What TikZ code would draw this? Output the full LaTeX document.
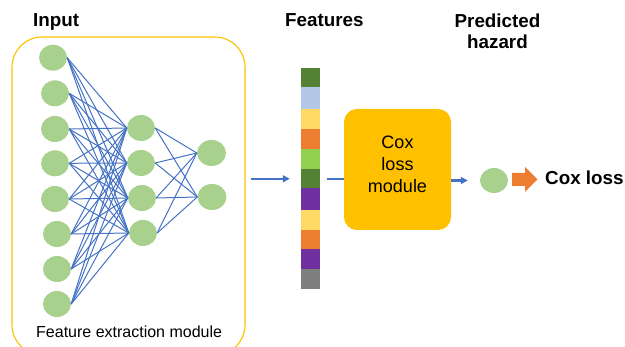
\documentclass[tikz,border=0pt]{standalone}
\usepackage{fontspec}
\setmainfont{Liberation Sans}
\usetikzlibrary{shapes.geometric,arrows.meta}
\definecolor{neurongreen}{HTML}{A9D18E}
\definecolor{linkblue}{HTML}{4472C4}
\definecolor{amber}{HTML}{FFC000}
\definecolor{fOrange}{HTML}{ED7D31}
\definecolor{fDarkGreen}{HTML}{548235}
\definecolor{fLightBlue}{HTML}{B4C7E7}
\definecolor{fYellow}{HTML}{FFD966}
\definecolor{fLightGreen}{HTML}{92D050}
\definecolor{fPurple}{HTML}{7030A0}
\definecolor{fGray}{HTML}{7F7F7F}
\begin{document}
\begin{tikzpicture}[x=1pt,y=-1pt,
  neuron/.style={ellipse, fill=neurongreen, minimum width=28pt, minimum height=26pt, inner sep=0pt},
  link/.style={draw=linkblue, line width=1pt},
  flow/.style={draw=linkblue, line width=2.2pt, -{Triangle[length=7pt,width=7pt]}},
  flowline/.style={draw=linkblue, line width=2.2pt},
  heading/.style={font=\fontsize{18.8}{21}\selectfont\bfseries, inner sep=0pt},
  plain/.style={font=\fontsize{18}{22}\selectfont, inner sep=0pt, align=center}
]
\useasboundingbox (0,0) rectangle (625,347);

% frame of the feature extraction module
\node[draw=amber, line width=1.1pt, rounded corners=30pt, minimum width=233pt, minimum height=318pt, inner sep=0pt] (fem) at (128.5,196) {};

% input layer
\foreach \i/\x/\y in {1/53/57.7, 2/55/93.3, 3/55/129, 4/55/163.3, 5/55/199, 6/57/234, 7/57/269, 8/57/304}
  \node[neuron] (in\i) at (\x,\y) {};
% hidden layer
\foreach \j/\x/\y in {1/141/128, 2/141/163, 3/142/198, 4/143/233}
  \node[neuron] (h\j) at (\x,\y) {};
% last layer
\foreach \k/\x/\y in {1/211.5/153, 2/212/197}
  \node[neuron, minimum width=29pt] (o\k) at (\x,\y) {};

\foreach \i in {1,...,8}
  \foreach \j in {1,...,4}
    \draw[link] (in\i.east) -- (h\j.west);
\foreach \j in {1,...,4}
  \foreach \k in {1,2}
    \draw[link] (h\j.east) -- (o\k.west);

\node[font=\fontsize{16}{19}\selectfont, inner sep=0pt, anchor=base west] (femlabel) at (36,338) {Feature extraction module};

% feature vector
\node[minimum width=19pt, minimum height=221pt, inner sep=0pt] (bar) at (310.5,178.8) {};
\foreach \ya/\yb/\c in {68.3/86.7/fDarkGreen, 86.7/109.3/fLightBlue, 109.3/129/fYellow, 129/149/fOrange,
  149/169/fLightGreen, 169/187.7/fDarkGreen, 187.7/210/fPurple, 210/230/fYellow, 230/249/fOrange,
  249/269/fPurple, 269/289.3/fGray}
  \fill[\c] (301,\ya) rectangle (320,\yb);

% Cox loss module
\node[fill=amber, rounded corners=13pt, minimum width=107pt, minimum height=121pt, inner sep=0pt] (cox) at (397.5,169.5) {};
\node[plain] (coxtext) at (397.5,164.5) {Cox\\loss\\module};

% predicted hazard
\node[neuron, minimum width=28pt, minimum height=25pt] (haz) at (494,180.5) {};
\fill[fOrange] (512,173) -- (525,173) -- (525,167) -- (537.5,179.5) -- (525,192) -- (525,186) -- (512,186) -- cycle;
\node[heading, anchor=base west] (coxloss) at (545,184.3) {Cox loss};

% connectors
\draw[flow, shorten <=5pt, shorten >=11pt] (fem.east |- bar) -- (bar.west);
\draw[flowline, shorten <=7pt] (bar.east) -- (cox.west |- bar);
\draw[flow, shorten >=12pt] (cox.east |- haz) -- (haz.west);

% headings
\node[heading, anchor=base west] (tin) at (33,27) {Input};
\node[heading, anchor=base west] (tfeat) at (285,27) {Features};
\node[heading, align=center, anchor=north] (thaz) at (497.5,13.5) {Predicted\\hazard};
\end{tikzpicture}
\end{document}
